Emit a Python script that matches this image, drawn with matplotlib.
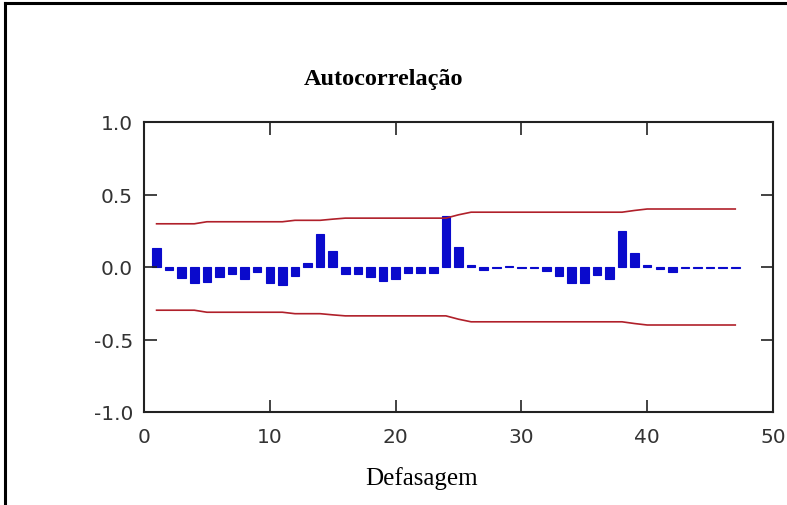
import matplotlib
matplotlib.use("Agg")
import matplotlib.pyplot as plt
from matplotlib.lines import Line2D

# lags and autocorrelation
lags = list(range(1, 48))
acf = [0.13, -0.02, -0.075, -0.11, -0.10, -0.07, -0.047, -0.086, -0.033, -0.11,
       -0.125, -0.063, 0.03, 0.225, 0.11, -0.045, -0.045, -0.07, -0.097, -0.08,
       -0.04, -0.04, -0.04, 0.355, 0.14, 0.012, -0.02, -0.006, 0.01, -0.006,
       -0.006, -0.025, -0.06, -0.11, -0.11, -0.055, -0.086, 0.25, 0.095, 0.012,
       -0.012, -0.033, -0.004, -0.004, -0.004, -0.004, -0.004]

# confidence limits (upper; lower is mirrored)
upper = [0.298, 0.298, 0.298, 0.298, 0.312, 0.312, 0.312, 0.312, 0.312, 0.312,
         0.312, 0.322, 0.322, 0.322, 0.330, 0.337, 0.337, 0.337, 0.337, 0.337,
         0.337, 0.337, 0.337, 0.337, 0.360, 0.378, 0.378, 0.378, 0.378, 0.378,
         0.378, 0.378, 0.378, 0.378, 0.378, 0.378, 0.378, 0.378, 0.390, 0.400,
         0.400, 0.400, 0.400, 0.400, 0.400, 0.400, 0.400]
lower = [-u for u in upper]

xticks = [0, 10, 20, 30, 40, 50]
yticks = [-1.0, -0.5, 0.0, 0.5, 1.0]

fig = plt.figure(figsize=(7.87, 5.06), dpi=100)
ax = fig.add_axes([144/787, 93/506, 629/787, 290/506])

ax.bar(lags, acf, width=0.68, color='#0a0acc', edgecolor='#0a0acc', linewidth=0.8)
ax.plot(lags, upper, color='#b0202a', linewidth=1.2)
ax.plot(lags, lower, color='#b0202a', linewidth=1.2)

ax.set_xlim(0, 50)
ax.set_ylim(-1, 1)
ax.set_xticks(xticks)
ax.set_yticks(yticks)
ax.set_xticklabels([str(t) for t in xticks])
ax.set_yticklabels(['%.1f' % t for t in yticks])
ax.tick_params(direction='in', length=9, width=1.2, top=True, right=True,
               labelsize=14.5, labelcolor='#333333', color='#222222')
ax.tick_params(axis='x', pad=11)
ax.tick_params(axis='y', pad=8)
for s in ax.spines.values():
    s.set_linewidth(1.5)
    s.set_color('#222222')

fig.text(0.487, 0.842, 'Autocorrelação', ha='center', va='center',
         fontsize=17.5, fontweight='bold', family='Liberation Serif')
fig.text(0.535, 0.055, 'Defasagem', ha='center', va='center',
         fontsize=18, family='Liberation Serif')

# outer frame (left and top edges)
fig.add_artist(Line2D([5/787, 5/787], [0, 1 - 4/506], transform=fig.transFigure,
                      color='black', linewidth=2.2))
fig.add_artist(Line2D([5/787, 1], [1 - 4/506, 1 - 4/506], transform=fig.transFigure,
                      color='black', linewidth=2.2))

fig.savefig('out.png', dpi=100)
